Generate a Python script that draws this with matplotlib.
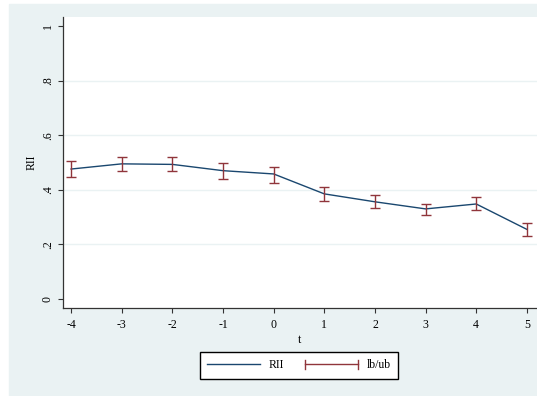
import matplotlib
matplotlib.use("Agg")
import matplotlib.pyplot as plt
import matplotlib.patches as mpatches
from matplotlib.lines import Line2D
from matplotlib.legend_handler import HandlerBase

# ── Data ───────────────────────────────────────────────────────────────────────
t_vals = [-4, -3, -2, -1, 0, 1, 2, 3, 4, 5]
rii    = [0.476, 0.495, 0.493, 0.470, 0.458, 0.385, 0.356, 0.330, 0.348, 0.255]
lb     = [0.446, 0.468, 0.467, 0.441, 0.426, 0.359, 0.332, 0.309, 0.326, 0.231]
ub     = [0.507, 0.521, 0.521, 0.499, 0.482, 0.409, 0.380, 0.348, 0.373, 0.280]
y_ticks  = [0, 0.2, 0.4, 0.6, 0.8, 1.0]
y_labels = ["0", ".2", ".4", ".6", ".8", "1"]

LINE_COLOR = "#1a476f"
BAR_COLOR  = "#90353b"
BG_COLOR   = "#eaf2f3"

plt.rcParams.update({
    "font.family": ["Liberation Serif", "DejaVu Serif"],
    "font.size": 8.5,
})


class HandlerRangeBar(HandlerBase):
    """Horizontal line with end caps, like Stata's rcap legend key."""
    def create_artists(self, legend, orig_handle, xdescent, ydescent,
                       width, height, fontsize, trans):
        y = height / 2 - ydescent
        x0, x1 = -xdescent, width - xdescent
        cap = 3.0
        arts = [
            Line2D([x0, x1], [y, y], color=BAR_COLOR, lw=1.0),
            Line2D([x0, x0], [y - cap, y + cap], color=BAR_COLOR, lw=1.0),
            Line2D([x1, x1], [y - cap, y + cap], color=BAR_COLOR, lw=1.0),
        ]
        for a in arts:
            a.set_transform(trans)
        return arts


fig = plt.figure(figsize=(5.37, 3.96), dpi=100)
fig.patch.set_facecolor("white")
fig.patches.append(mpatches.Rectangle((9 / 537, 0), 1 - 9 / 537, 1 - 4 / 396,
                                      transform=fig.transFigure, color=BG_COLOR,
                                      zorder=-10))

ax = fig.add_axes([63 / 537, 1 - 308 / 396, 1 - 63 / 537, (308 - 16.7) / 396])
ax.set_facecolor("white")

for yv in y_ticks[1:-1]:
    ax.axhline(yv, color=BG_COLOR, lw=1.0, zorder=0)

line, = ax.plot(t_vals, rii, color=LINE_COLOR, lw=1.0, zorder=2)
yerr = [[r - l for r, l in zip(rii, lb)], [u - r for r, u in zip(rii, ub)]]
ax.errorbar(t_vals, rii, yerr=yerr, fmt="none", ecolor=BAR_COLOR,
            elinewidth=1.0, capsize=3.5, capthick=1.0, zorder=3)

ax.set_xlim(-4.16, 5.2)
ax.set_ylim(-0.033, 1.034)
ax.set_xticks(t_vals)
ax.set_xticklabels([str(v) for v in t_vals])
ax.set_yticks(y_ticks)
ax.set_yticklabels(y_labels, rotation=90, va="center")
ax.tick_params(direction="out", length=3.6, width=0.8, color="#333333",
               labelsize=8.5)
ax.tick_params(axis="x", pad=4.5)
ax.tick_params(axis="y", pad=3)
for s in ["top", "right"]:
    ax.spines[s].set_visible(False)
for s in ["left", "bottom"]:
    ax.spines[s].set_color("#333333")
    ax.spines[s].set_linewidth(0.9)

ax.set_xlabel("t", fontsize=8.5, labelpad=2)
ax.set_ylabel("RII", fontsize=8.5, labelpad=3)

rng_handle = Line2D([], [], color=BAR_COLOR)
fig.legend([line, rng_handle], ["RII", "lb/ub"],
           handler_map={rng_handle: HandlerRangeBar()},
           loc="center", bbox_to_anchor=(299 / 537, 1 - 365.5 / 396),
           ncol=2, frameon=True, fancybox=False, edgecolor="black",
           framealpha=1, fontsize=8.5, handlelength=4.5, columnspacing=1.8,
           borderpad=0.6, handletextpad=0.75)

fig.savefig("out.png", dpi=100)
